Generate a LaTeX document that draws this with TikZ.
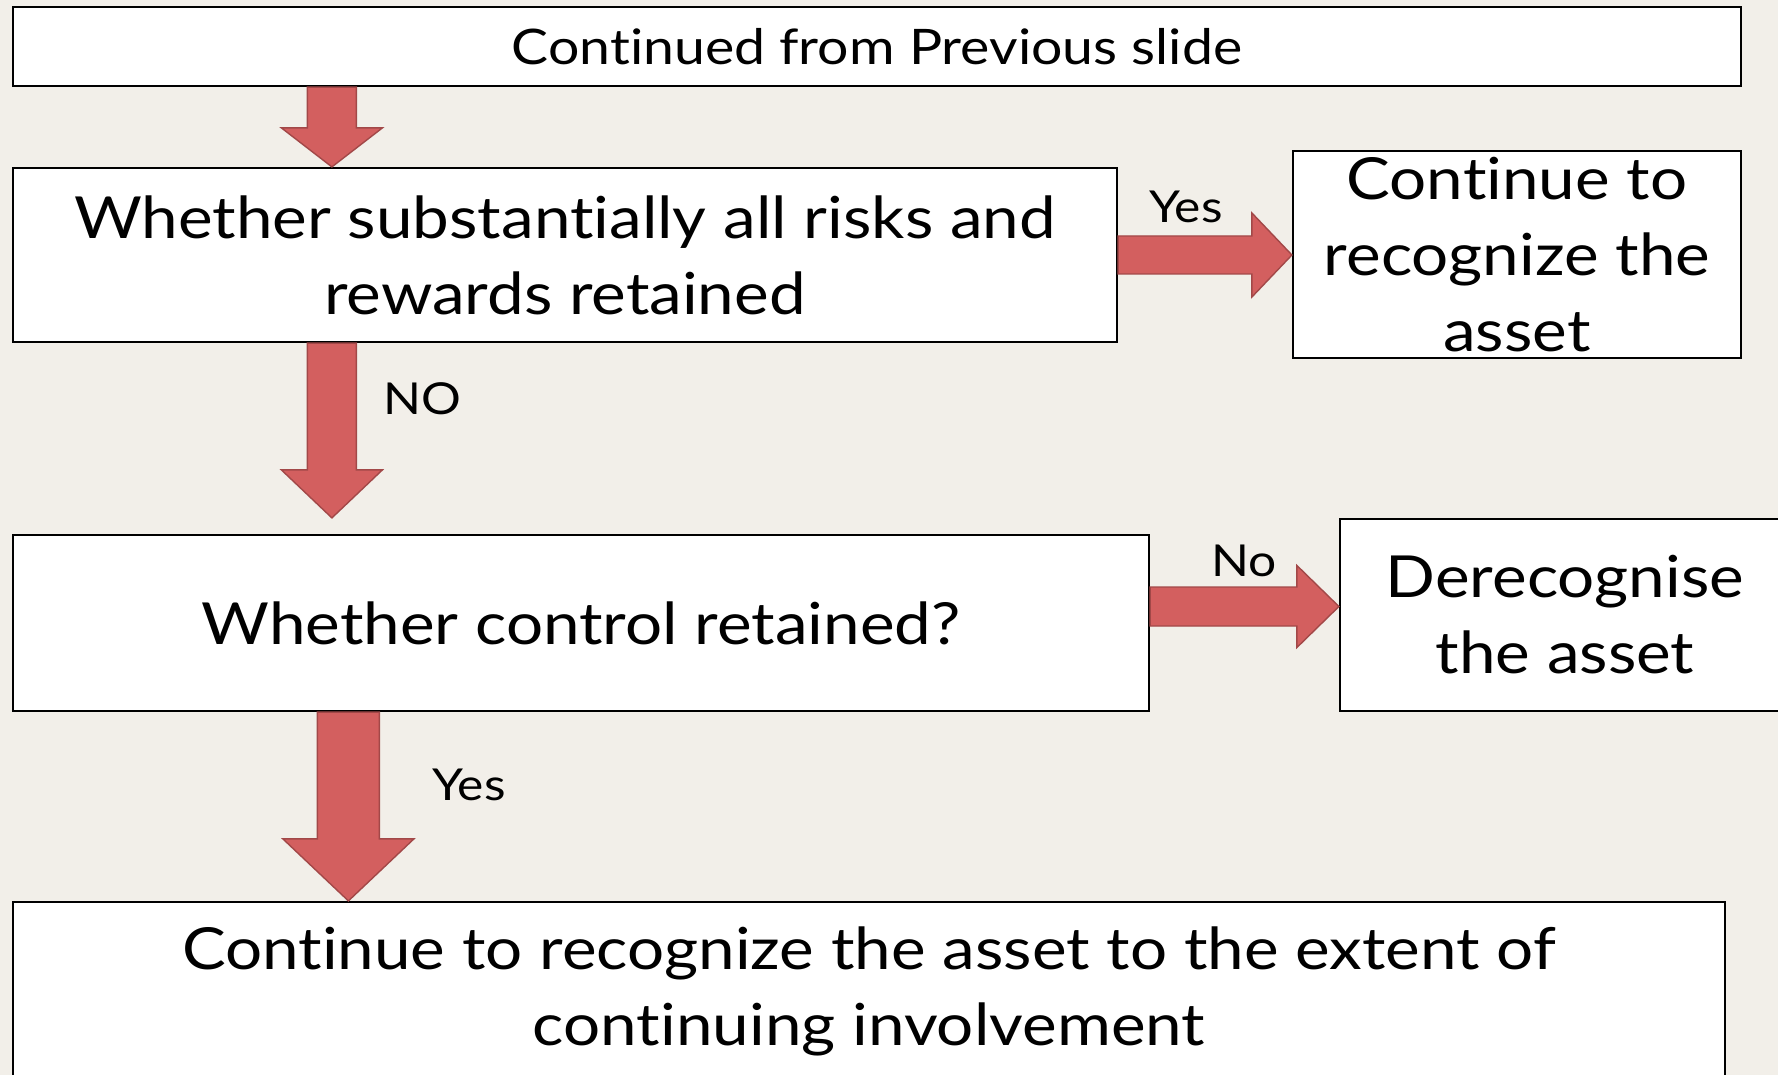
\documentclass[tikz,border=0pt]{standalone}
\usepackage{fontspec}
\setmainfont[FakeStretch=1.13, Ligatures={NoCommon}]{Lato}
\usetikzlibrary{calc}

\definecolor{slidebg}{HTML}{F2EFE9}
\definecolor{arrowred}{HTML}{D35F5F}
\definecolor{arrowedge}{HTML}{A24848}

% block arrows: #1 start, #2 tip, #3 half shaft, #4 half head, #5 head length
\newcommand{\fatdown}[5]{%
  \filldraw[fatarrow] let \p1=(#1), \p2=(#2) in
    (\x1-#3,\y1) -- (\x1+#3,\y1) -- (\x1+#3,\y2+#5) -- (\x1+#4,\y2+#5)
    -- (\x1,\y2) -- (\x1-#4,\y2+#5) -- (\x1-#3,\y2+#5) -- cycle;}
\newcommand{\fatright}[5]{%
  \filldraw[fatarrow] let \p1=(#1), \p2=(#2) in
    (\x1,\y1-#3) -- (\x2-#5,\y1-#3) -- (\x2-#5,\y1-#4) -- (\x2,\y1)
    -- (\x2-#5,\y1+#4) -- (\x2-#5,\y1+#3) -- (\x1,\y1+#3) -- cycle;}

\begin{document}
\begin{tikzpicture}[
    x=0.5pt, y=-0.5pt,
    stepbox/.style={draw=black, fill=white, line width=1.1pt, inner sep=0pt,
      align=center, font=\fontsize{29}{38}\selectfont},
    topbox/.style={stepbox, font=\fontsize{24.5}{30}\selectfont},
    fatarrow/.style={fill=arrowred, draw=arrowedge, line width=0.7pt, line join=miter},
    lbl/.style={anchor=base, inner sep=0pt, font=\fontsize{22}{26}\selectfont},
]
\fill[slidebg] (0,0) rectangle (1778,1075);
\useasboundingbox (0,0) rectangle (1778,1075);
\clip (0,0) rectangle (1778,1075);

% boxes
\node[topbox, minimum width=864pt, minimum height=39.5pt] (top) at (877,46.5)
  {Continued from Previous slide};
\node[stepbox, minimum width=552pt, minimum height=87pt] (q1) at (565,255)
  {Whether substantially all risks and\\rewards retained};
\node[stepbox, minimum width=224pt, minimum height=103.5pt] (keep) at (1517,254.5)
  {Continue to\\recognize the\\asset};
\node[stepbox, minimum width=568pt, minimum height=88pt] (q2) at (581,623)
  {Whether control retained?};
\node[stepbox, minimum width=225pt, minimum height=96pt] (derec) at (1565,615)
  {Derecognise\\the asset};
\node[stepbox, minimum width=856pt, minimum height=89pt] (final) at (869,991)
  {Continue to recognize the asset to the extent of\\continuing involvement};

% arrows
\coordinate (d1) at ($(top.south west)+(320,0)$);
\coordinate (d2) at ($(q1.south west)+(320,0)$);
\coordinate (d2tip) at ($(d2 |- q2.north)+(0,-16)$);
\coordinate (d3) at ($(q2.south west)+(336.5,0)$);
\coordinate (r2) at ($(q2.east)+(0,-16.5)$);
\fatdown{d1}{d1 |- q1.north}{12.25pt}{25.25pt}{19.5pt}
\fatdown{d2}{d2tip}{12.25pt}{25.25pt}{24pt}
\fatdown{d3}{d3 |- final.north}{15.5pt}{32.75pt}{31pt}
\fatright{q1.east}{q1.east -| keep.west}{9.5pt}{21pt}{20pt}
\fatright{r2}{r2 -| derec.west}{9.75pt}{20.5pt}{21pt}

% labels
\node[lbl] (yes1) at (1186,223) {Yes};
\node[lbl] (no1) at (422,415) {NO};
\node[lbl] (no2) at (1244,576) {No};
\node[lbl] (yes2) at (469,800) {Yes};
\end{tikzpicture}
\end{document}
